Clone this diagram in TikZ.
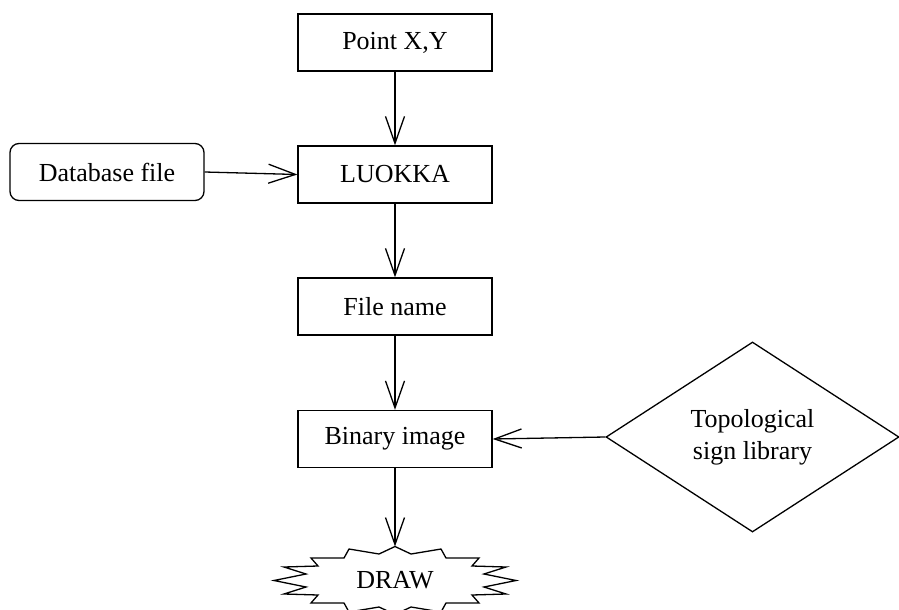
\documentclass[tikz,border=0pt]{standalone}
\usepackage{fontspec}
\setmainfont{Liberation Serif}
\usetikzlibrary{shapes.geometric,arrows.meta}
\begin{document}
\begin{tikzpicture}[x=1pt,y=-1pt,
  every node/.style={font=\fontsize{26}{32}\selectfont},
  box/.style={draw,line width=1.3pt,minimum width=194pt,minimum height=57pt,inner sep=0pt},
  rbox/.style={box,rounded corners=9pt},
  dia/.style={draw,line width=1.3pt,diamond,minimum width=293pt,minimum height=190pt,inner sep=0pt,align=center},
  conn/.style={line width=1.3pt,-{Straight Barb[length=27pt,width=19pt,line width=1.3pt]}},
  starline/.style={draw,line width=1.3pt,line join=miter},
]
\useasboundingbox (0,0) rectangle (899,610);

\node[box] (pt) at (395,42.5) {Point X,Y};
\node[box] (lk) at (395,174.5) {LUOKKA};
\node[rbox] (db) at (107,172) {Database file};
\node[box] (fn) at (395,306.5) {File name};
\node[box] (bi) at (395,439) {Binary image};
\node[dia] (tl) at (752.5,437) {Topological\\sign library};

\begin{scope}[shift={(395,580.5)}]
  \path[starline] (0,-34) -- (16,-26.5) -- (46,-31.5) -- (51,-22.5) -- (84,-22.5) -- (77,-14.5) -- (111,-13.5) -- (89,-6.5) -- (121,0)
    -- (89,6.5) -- (111,13.5) -- (77,14.5) -- (84,22.5) -- (51,22.5) -- (46,31.5) -- (16,26.5) -- (0,34)
    -- (-16,26.5) -- (-46,31.5) -- (-51,22.5) -- (-84,22.5) -- (-77,14.5) -- (-111,13.5) -- (-89,6.5) -- (-121,0)
    -- (-89,-6.5) -- (-111,-13.5) -- (-77,-14.5) -- (-84,-22.5) -- (-51,-22.5) -- (-46,-31.5) -- (-16,-26.5) -- cycle;
  \coordinate (drtop) at (0,-34);
  \node (dr) at (0,0) {DRAW};
\end{scope}

\draw[conn] (pt.south) -- (lk.north);
\draw[conn] (db.east) -- (lk.west);
\draw[conn] (lk.south) -- (fn.north);
\draw[conn] (fn.south) -- (bi.north);
\draw[conn] (tl.west) -- (bi.east);
\draw[conn] (bi.south) -- (drtop);
\end{tikzpicture}
\end{document}
